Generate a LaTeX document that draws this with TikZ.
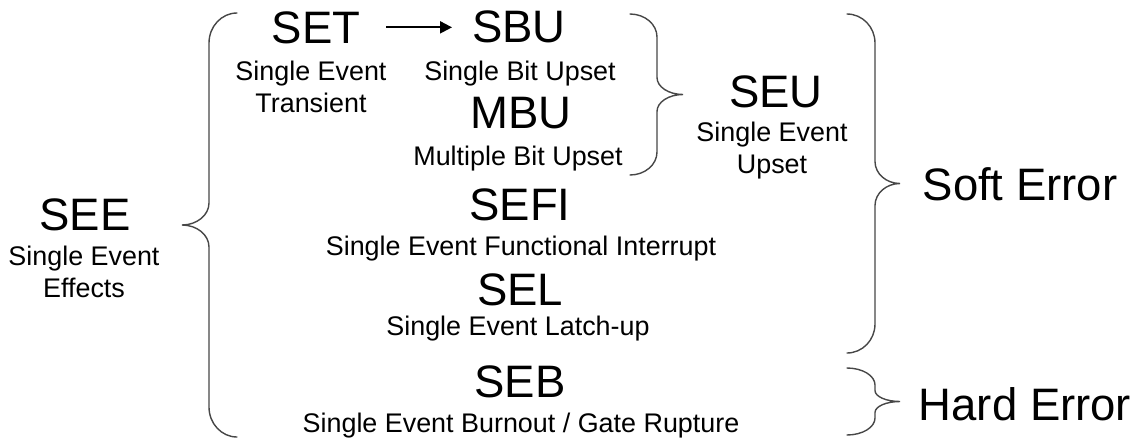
\documentclass[tikz,border=0pt]{standalone}
\usepackage{fontspec}
\setmainfont{Liberation Sans}
\usetikzlibrary{arrows.meta}

% Curly brace: #1 end x, #2 spine x, #3 tip x, #4 top y, #5 bottom y,
% #6 radius of the end curls, #7 radius of the middle curls
\newcommand{\curlybrace}[7]{%
  \draw[bracestyle]
    (#1,#4) .. controls ({#1-0.552*(#1-#2)},#4) and (#2,{#4+0.448*#6}) .. (#2,{#4+#6})
    -- (#2,{(#4+#5)/2-#7})
    .. controls (#2,{(#4+#5)/2-0.448*#7}) and ({#2+0.448*(#3-#2)},{(#4+#5)/2}) .. (#3,{(#4+#5)/2})
    .. controls ({#2+0.448*(#3-#2)},{(#4+#5)/2}) and (#2,{(#4+#5)/2+0.448*#7}) .. (#2,{(#4+#5)/2+#7})
    -- (#2,{#5-#6})
    .. controls (#2,{#5-0.448*#6}) and ({#1-0.552*(#1-#2)},#5) .. (#1,#5);
}

\tikzset{
  acronym/.style={font=\fontsize{45.5}{54}\selectfont, inner sep=0pt, anchor=base},
  % multi-line descriptions are placed by the baseline of their last line
  desc/.style={font=\fontsize{26.9}{31.5}\selectfont, inner sep=0pt, align=center, anchor=base},
  bracestyle/.style={draw=black!72, line width=1.4pt, line cap=round},
  arr/.style={-{Triangle[length=12pt,width=12pt]}, line width=2pt}
}

\begin{document}
\begin{tikzpicture}[x=1pt, y=-1pt]
\useasboundingbox (0,0) rectangle (1141,440);

% Left column
\node[acronym] (SEE) at (85,230) {SEE};
\node[desc] (SEEd) at (84,297) {Single Event\\Effects};

% Upper group
\node[acronym] (SET) at (316,43) {SET};
\node[desc] (SETd) at (311,112) {Single Event\\Transient};
\node[acronym] (SBU) at (519,42) {SBU};
\node[desc] (SBUd) at (520,80) {Single Bit Upset};
\node[acronym] (MBU) at (521,128) {MBU};
\node[desc] (MBUd) at (518,165) {Multiple Bit Upset};
\node[acronym] (SEU) at (776,107) {SEU};
\node[desc] (SEUd) at (772,173) {Single Event\\Upset};

% Middle and lower entries
\node[acronym] (SEFI) at (520,220) {SEFI};
\node[desc] (SEFId) at (521,255) {Single Event Functional Interrupt};
\node[acronym] (SEL) at (520,305) {SEL};
\node[desc] (SELd) at (518,335) {Single Event Latch-up};
\node[acronym] (SEB) at (520,397) {SEB};
\node[desc] (SEBd) at (521,432) {Single Event Burnout / Gate Rupture};

% Error classes
\node[acronym] (soft) at (1020,200) {Soft Error};
\node[acronym] (hard) at (1025,420) {Hard Error};

% Transient propagating into a bit upset
\draw[arr] ([xshift=26pt]SET.east) -- ([xshift=-20pt]SBU.west |- SET.east);

% Braces
\curlybrace{237}{209}{182}{13}{437}{30}{22}
\curlybrace{630}{657}{683}{14}{175}{23}{17}
\curlybrace{847}{875}{900}{14}{353}{29}{22}
\curlybrace{847}{875}{900}{368}{435}{17}{11}
\end{tikzpicture}
\end{document}
